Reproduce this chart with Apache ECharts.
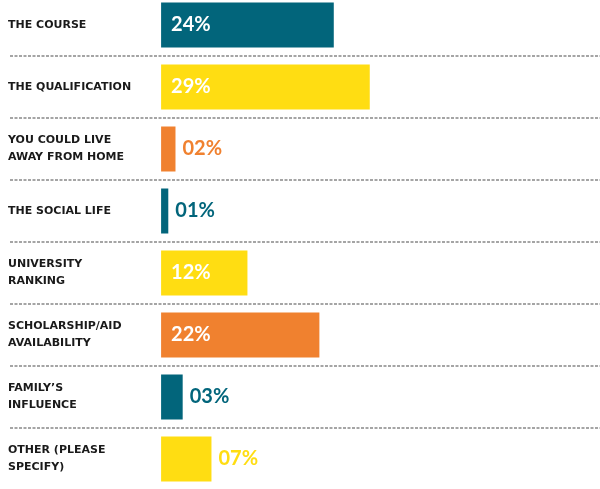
<!DOCTYPE html>
<html>
<head>
<meta charset="utf-8">
<style>
  html, body { margin: 0; padding: 0; background: #ffffff; overflow: hidden; }
  #chart { width: 600px; height: 496px; margin-top: -6px; }
</style>
<script src="https://cdn.jsdelivr.net/npm/echarts@6/dist/echarts.min.js"></script>
</head>
<body>
<div id="chart"></div>
<script>
const categories = [
  "THE COURSE",
  "THE QUALIFICATION",
  "YOU COULD LIVE\nAWAY FROM HOME",
  "THE SOCIAL LIFE",
  "UNIVERSITY\nRANKING",
  "SCHOLARSHIP/AID\nAVAILABILITY",
  "FAMILY’S\nINFLUENCE",
  "OTHER (PLEASE\nSPECIFY)"
];
const values = [24, 29, 2, 1, 12, 22, 3, 7];
const labelText = ["24%", "29%", "02%", "01%", "12%", "22%", "03%", "07%"];

const teal = "#02657b";
const yellow = "#ffdd12";
const orange = "#f0812f";
const barColors = [teal, yellow, orange, teal, yellow, orange, teal, yellow];

// small bars get the label outside in the bar colour
const outside = [false, false, true, true, false, false, true, true];

let chart = echarts.init(document.getElementById("chart"));

let data = values.map((v, i) => {
  let item = {
    value: v,
    itemStyle: { color: barColors[i] },
    label: {
      show: true,
      formatter: labelText[i],
      fontFamily: "Lato",
      fontWeight: "bold",
      fontSize: 20,
    },
  };
  if (outside[i]) {
    item.label.position = "right";
    item.label.distance = 7;
    item.label.color = barColors[i];
  } else {
    item.label.position = "insideLeft";
    item.label.distance = 10;
    item.label.color = "#ffffff";
  }
  return item;
});

let option = {
  animation: false,
  grid: {
    left: 10,
    right: 0,
    top: 0,
    bottom: 0,
    containLabel: false,
  },
  xAxis: {
    type: "value",
    min: -21,
    max: 61,
    show: false,
  },
  yAxis: {
    type: "category",
    inverse: true,
    data: categories,
    axisLine: { show: false },
    axisTick: { show: false },
    axisLabel: {
      inside: true,
      margin: -2,
      color: "#1a1a1a",
      fontFamily: "DejaVu Sans",
      fontWeight: "bold",
      fontSize: 11,
      lineHeight: 17,
      align: "left",
    },
    splitLine: {
      show: true,
      lineStyle: {
        color: "#888888",
        width: 1.5,
        type: [3, 1.5],
      },
    },
  },
  series: [
    {
      type: "bar",
      barWidth: 45,
      data: data,
    },
  ],
};

chart.setOption(option);
</script>
</body>
</html>
